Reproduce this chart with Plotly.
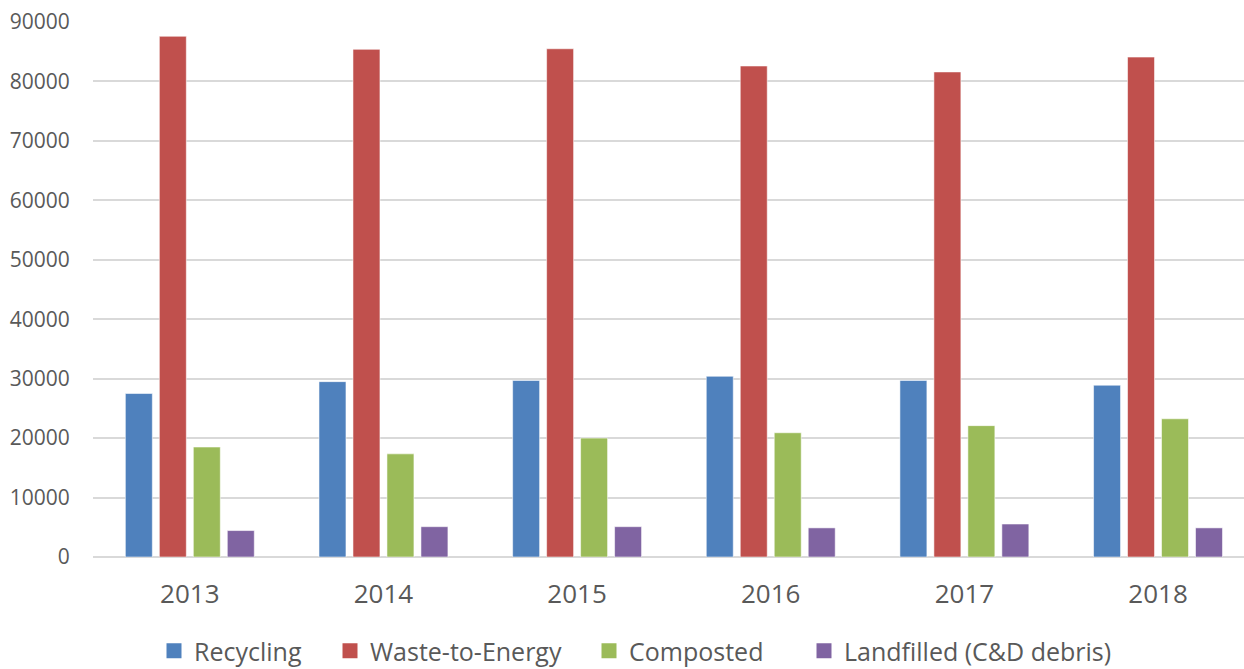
import plotly.graph_objects as go

years = ["2013", "2014", "2015", "2016", "2017", "2018"]
recycling = [27500, 29500, 29700, 30400, 29700, 28900]
waste_to_energy = [87600, 85400, 85500, 82600, 81600, 84100]
composted = [18500, 17350, 20000, 20900, 22100, 23250]
landfilled = [4450, 5100, 5100, 4900, 5550, 4900]
series_names = ["Recycling", "Waste-to-Energy", "Composted", "Landfilled (C&D debris)"]
y_ticks = [0, 10000, 20000, 30000, 40000, 50000, 60000, 70000, 80000, 90000]

colors = ["#4F81BD", "#C0504D", "#9BBB59", "#8064A2"]
series = [recycling, waste_to_energy, composted, landfilled]
legend_ids = ["legend", "legend2", "legend3", "legend4"]
legend_x_px = [154, 330, 589, 804]
FONT = "Open Sans"
GRAY = "#595959"
W, H = 1244, 669

fig = go.Figure()
for name, vals, col in zip(series_names, series, colors):
    fig.add_trace(go.Bar(
        x=years, y=vals, name=name, showlegend=False,
        marker=dict(color=col, line=dict(color="rgba(255,255,255,0.55)", width=1)),
    ))
# legend entries with larger square swatches, one legend each
for name, col, lid in zip(series_names, colors, legend_ids):
    fig.add_trace(go.Scatter(
        x=[None], y=[None], mode="markers", name=name, legend=lid,
        marker=dict(symbol="square", size=15, color=col),
    ))

legend_common = dict(
    orientation="h", xref="container", yref="container",
    xanchor="left", y=(H - 651) / H, yanchor="middle",
    font=dict(size=25, color=GRAY, family=FONT),
    itemsizing="trace", itemwidth=30, bgcolor="rgba(0,0,0,0)",
)
legends = {lid: dict(legend_common, x=px / W) for lid, px in zip(legend_ids, legend_x_px)}

fig.update_layout(
    width=W, height=H,
    margin=dict(l=93, r=0, t=22, b=112),
    plot_bgcolor="white", paper_bgcolor="white",
    barmode="group", bargap=0.298, bargroupgap=0.206,
    font=dict(family=FONT, color=GRAY),
    xaxis=dict(
        type="category", range=[-0.5, 5.444],
        showgrid=False, showline=False, zeroline=False,
        ticks="outside", ticklen=14, tickcolor="rgba(0,0,0,0)",
        tickfont=dict(size=26, color=GRAY, family=FONT),
    ),
    yaxis=dict(
        range=[0, 90000], tickvals=y_ticks, ticktext=[str(v) for v in y_ticks],
        showgrid=True, gridcolor="#D9D9D9", gridwidth=2,
        zeroline=True, zerolinecolor="#D9D9D9", zerolinewidth=2,
        showline=False,
        ticks="outside", ticklen=18, tickcolor="rgba(0,0,0,0)",
        tickfont=dict(size=21, color=GRAY, family=FONT),
    ),
    **legends,
)

fig.write_html(
    "out.html",
    config={"displayModeBar": False},
    post_script="document.body.style.margin='0';document.body.style.overflow='hidden';",
)
